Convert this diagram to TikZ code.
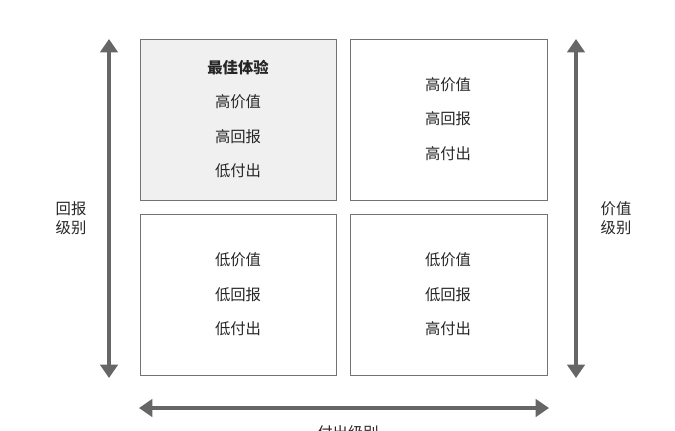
\documentclass[tikz,border=0pt]{standalone}
\usepackage{fontspec}
\newfontfamily\cjk{Noto Sans CJK SC}
\usetikzlibrary{arrows.meta}
\begin{document}
\begin{tikzpicture}[x=0.75pt,y=-0.75pt,
  box/.style={draw=black!55,line width=0.6pt},
  txt/.style={font=\cjk\fontsize{11.5}{14}\selectfont,text=black!85},
  axis/.style={draw=black!60,line width=3pt,{Triangle[length=10pt,width=13pt]}-{Triangle[length=10pt,width=13pt]}}]
\useasboundingbox (0,0) rectangle (675,430);
\clip (0,0) rectangle (675,430);
\fill[white] (0,0) rectangle (675,430);
\draw[box,fill=black!6] (140,39) rectangle (336,200);
\draw[box] (350,39) rectangle (547,200);
\draw[box] (140,214) rectangle (336,375);
\draw[box] (350,214) rectangle (547,375);
\node[txt,font=\cjk\bfseries\fontsize{11.5}{14}\selectfont] (a1) at (238,68) {最佳体验};
\node[txt] (a2) at (238,102) {高价值};
\node[txt] (a3) at (238,137) {高回报};
\node[txt] (a4) at (238,171) {低付出};
\node[txt] (b1) at (448,85) {高价值};
\node[txt] (b2) at (448,119) {高回报};
\node[txt] (b3) at (448,154) {高付出};
\node[txt] (c1) at (238,260) {低价值};
\node[txt] (c2) at (238,295) {低回报};
\node[txt] (c3) at (238,329) {低付出};
\node[txt] (d1) at (448,260) {低价值};
\node[txt] (d2) at (448,295) {低回报};
\node[txt] (d3) at (448,329) {高付出};
\coordinate (l1) at (109,39); \coordinate (l2) at (109,378);
\coordinate (r1) at (576,39); \coordinate (r2) at (576,378);
\coordinate (h1) at (139,408); \coordinate (h2) at (549,408);
\draw[axis] (l1) -- (l2);
\draw[axis] (r1) -- (r2);
\draw[axis] (h1) -- (h2);
\node[txt,align=center] (ll) at (71,218) {回报\\级别};
\node[txt,align=center] (rl) at (616,218) {价值\\级别};
\node[txt] (bl) at (348,433) {付出级别};
\end{tikzpicture}
\end{document}
